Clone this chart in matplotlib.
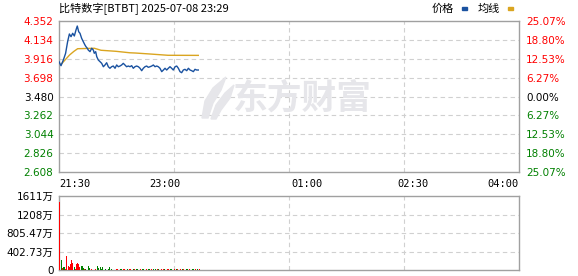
import matplotlib
matplotlib.use("Agg")
import matplotlib.pyplot as plt
from matplotlib.patches import Polygon
import numpy as np

plt.rcParams['font.family'] = ['DejaVu Sans', 'Noto Sans CJK SC']

# 分时数据 (minutes after 21:30)
price_min = [0, 1.7, 3.7, 5.6, 7.3, 8.8, 10.2, 11.6, 13.0, 14.4, 15.5, 16.7, 17.8, 19.2,
             20.6, 22.0, 22.9, 24.0, 24.8, 26.3, 27.7, 29.1, 29.9, 31.1, 32.0, 33.3, 34.8,
             36.2, 37.6, 39.0, 40.4, 41.8, 43.2, 44.6, 46.0, 47.5, 48.9, 50.3, 51.7, 53.1,
             54.5, 55.9, 57.3, 58.8, 60.2, 61.6, 63.0, 64.4, 65.8, 67.3, 68.7, 70.1, 71.5,
             72.9, 74.3, 75.7, 77.2, 78.6, 80.0, 81.4, 82.8, 84.2, 85.6, 87.1, 88.5, 89.9,
             91.3, 92.7, 94.1, 95.5, 96.9, 98.4, 99.8, 101.2, 102.6, 104.0, 105.4, 106.8,
             108.3, 109.7, 111.1, 112.5, 113.9, 115.3, 116.7, 118.1]
price = [3.882, 3.836, 3.902, 3.979, 4.113, 4.202, 4.171, 4.210, 4.179, 4.248, 4.294, 4.228,
         4.210, 4.152, 4.113, 4.075, 4.055, 4.037, 4.017, 3.998, 4.037, 4.017, 3.979, 3.998,
         3.940, 3.902, 3.882, 3.863, 3.824, 3.844, 3.870, 3.824, 3.806, 3.824, 3.832, 3.806,
         3.844, 3.824, 3.832, 3.844, 3.863, 3.844, 3.824, 3.832, 3.824, 3.836, 3.806, 3.824,
         3.832, 3.824, 3.806, 3.778, 3.806, 3.824, 3.832, 3.817, 3.824, 3.832, 3.844, 3.824,
         3.832, 3.824, 3.806, 3.767, 3.786, 3.806, 3.786, 3.806, 3.824, 3.806, 3.786, 3.824,
         3.832, 3.806, 3.767, 3.755, 3.786, 3.794, 3.778, 3.806, 3.786, 3.778, 3.767, 3.794,
         3.786, 3.786]

avg_min = [1.5, 5, 9, 12.5, 15.8, 30, 35.6, 48.3, 60, 65, 77, 92.4, 118.1]
avg = [3.847, 3.90, 3.96, 4.00, 4.032, 4.037, 4.014, 4.002, 3.985, 3.982, 3.971, 3.956, 3.955]

# 成交量 (万), one bar per minute
vol = [1490, 218, 40, 55, 60, 20, 305, 87, 65, 123, 210, 160, 70, 30, 123, 160, 140, 70,
       90, 90, 40, 15, 15, 10, 87, 40, 10, 15, 10, 10, 15, 10, 87, 45, 60, 30, 60, 10, 10,
       15, 10, 20, 65, 10, 30, 10, 10, 10, 20,
       12, 10, 14, 12, 10, 12, 14, 10, 12, 10, 12, 14, 10, 12, 12, 10, 14, 12, 10, 12,
       10, 12, 14, 10, 12, 10, 12, 12, 10, 14, 12, 10, 12, 10, 12, 14, 10, 12, 10, 12,
       14, 10, 12, 12, 10, 14, 12, 10, 12, 10, 12, 14, 10, 12, 10, 12, 12, 10, 14, 12,
       10, 12, 10, 12, 14, 10, 12, 10, 12, 12, 10]
vol_dir = ("rgrggrrrrrrrgrrrrrgggrgrggrrggrggggggrrgrggrgrgrr"
           "rrgggrrggrrrggrrgggrrggrrrggrrgggrrggrrrggrrgggrrggrrrggrrgggrrggrrrg")

base = 3.480
price_ticks = [2.608, 2.826, 3.044, 3.262, 3.480, 3.698, 3.916, 4.134, 4.352]
pct_labels = ['25.07%', '18.80%', '12.53%', '6.27%', '0.00%', '6.27%', '12.53%', '18.80%', '25.07%']
vol_ticks = [0, 402.73, 805.47, 1208, 1611]
vol_labels = ['0', '402.73万', '805.47万', '1208万', '1611万']
time_ticks = [0, 90, 210, 300, 390]
time_labels = ['21:30', '23:00', '01:00', '02:30', '04:00']

RED = '#ff0000'
GREEN = '#008000'
BLUE = '#1a52a0'
ORANGE = '#daa520'
SPINE = '#a0a0a0'
GRID = '#d0d0d0'
WM = '#e6e6ea'

W, H = 578, 276
fig = plt.figure(figsize=(W / 100, H / 100), dpi=100)

def box(l, t, r, b):
    return [l / W, 1 - b / H, (r - l) / W, (b - t) / H]

def fpt(x, y):
    return (x / W, 1 - y / H)

ax = fig.add_axes(box(59, 21, 519, 172))
axv = fig.add_axes(box(59, 196, 519, 270))

for a in (ax, axv):
    a.set_xlim(0, 390)
    for s in a.spines.values():
        s.set_color(SPINE)
        s.set_linewidth(1)
    for q in (97.5, 195, 292.5):
        a.axvline(q, color=GRID, lw=0.8, ls=(0, (4, 3)), zorder=0)
    a.tick_params(length=0)

# price panel
ax.set_ylim(price_ticks[0], price_ticks[-1])
ax.set_yticks(price_ticks)
ax.set_yticklabels([f'{t:.3f}' for t in price_ticks], fontsize=7.5)
for lab, t in zip(ax.get_yticklabels(), price_ticks):
    lab.set_color(RED if t > base + 1e-9 else (GREEN if t < base - 1e-9 else '#000000'))
for t in price_ticks[1:-1]:
    ax.axhline(t, color=GRID, lw=0.8, ls=(0, (4, 3)), zorder=0)
ax.tick_params(axis='y', pad=4)

ax.set_xticks(time_ticks)
ax.set_xticklabels(time_labels, fontsize=7.5, family='DejaVu Sans Mono')
xl = ax.get_xticklabels()
xl[0].set_ha('left')
xl[-1].set_ha('right')
ax.tick_params(axis='x', pad=5)

axr = ax.twinx()
axr.set_ylim(ax.get_ylim())
axr.set_yticks(price_ticks)
axr.set_yticklabels(pct_labels, fontsize=7.5)
for lab, t in zip(axr.get_yticklabels(), price_ticks):
    lab.set_color(RED if t > base + 1e-9 else (GREEN if t < base - 1e-9 else '#000000'))
axr.tick_params(length=0, pad=5)
for s in axr.spines.values():
    s.set_visible(False)

# watermark: swoosh + 东方财富
blade1 = [fpt(202, 118), fpt(205, 101), fpt(213, 88), fpt(226, 77), fpt(221, 90),
          fpt(213, 103), fpt(208, 118)]
blade2 = [fpt(211, 119), fpt(216, 105), fpt(225, 93), fpt(234, 85), fpt(230, 98),
          fpt(221, 110), fpt(216, 119)]
for pts in (blade1, blade2):
    fig.patches.append(Polygon(pts, closed=True, color=WM, transform=fig.transFigure,
                               figure=fig, zorder=0))
ax.text(0.53, 0.49, '东方财富', transform=ax.transAxes, fontsize=25, fontweight='bold',
        color=WM, ha='center', va='center', family='Noto Sans CJK SC', zorder=0)

ax.plot(avg_min, avg, color=ORANGE, lw=1.0, zorder=3)
ax.plot(price_min, price, color=BLUE, lw=1.0, zorder=4)

# volume panel
vx = np.arange(len(vol)) + 0.35
vc = [RED if d == 'r' else GREEN for d in vol_dir[:len(vol)]]
axv.bar(vx, vol, width=0.85, color=vc, align='edge', linewidth=0, zorder=3)
axv.set_ylim(0, vol_ticks[-1])
axv.set_yticks(vol_ticks)
axv.set_yticklabels(vol_labels, fontsize=7.5)
axv.tick_params(axis='y', pad=4)
axv.set_xticks([])
for t in vol_ticks[1:-1]:
    axv.axhline(t, color=GRID, lw=0.8, ls=(0, (4, 3)), zorder=0)

# title and legend
fig.text(59 / W, 1 - 9 / H, '比特数字[BTBT] 2025-07-08 23:29', fontsize=8,
         family=['Noto Sans CJK SC', 'DejaVu Sans'], ha='left', va='center')
fig.text(432 / W, 1 - 9 / H, '价格', fontsize=8, family='Noto Sans CJK SC', ha='left', va='center')
fig.patches.append(plt.Rectangle((462 / W, 1 - 10 / H), 5 / W, 3 / H, color=BLUE,
                                 transform=fig.transFigure, figure=fig))
fig.text(478 / W, 1 - 9 / H, '均线', fontsize=8, family='Noto Sans CJK SC', ha='left', va='center')
fig.patches.append(plt.Rectangle((508 / W, 1 - 10 / H), 5 / W, 3 / H, color=ORANGE,
                                 transform=fig.transFigure, figure=fig))

fig.savefig('out.png', dpi=100)
